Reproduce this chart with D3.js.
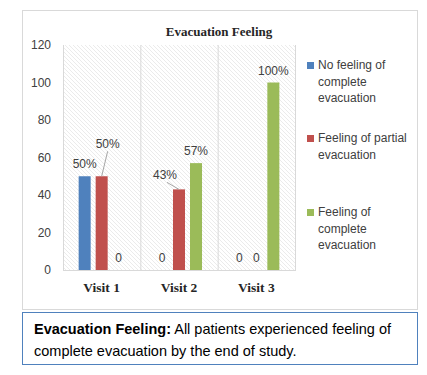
<!DOCTYPE html>
<html>
<head>
<meta charset="utf-8">
<script src="https://cdn.jsdelivr.net/npm/d3@7"></script>
<style>
  body { margin: 0; background: #fff; }
  svg { display: block; }
</style>
</head>
<body>
<div id="chart"></div>
<script>
// chart values
const categories = ["Visit 1", "Visit 2", "Visit 3"];
const seriesNames = ["No feeling of complete evacuation", "Feeling of partial evacuation", "Feeling of complete evacuation"];
const noFeeling = [50, 0, 0];
const partialFeeling = [50, 43, 0];
const completeFeeling = [0, 57, 100];
const yTicks = [0, 20, 40, 60, 80, 100, 120];
const legendLines = [["No feeling of", "complete", "evacuation"], ["Feeling of partial", "evacuation"], ["Feeling of", "complete", "evacuation"]];
const colors = ["#4f81bd", "#c0504d", "#9bbb59"];

const values = [noFeeling, partialFeeling, completeFeeling];

const svg = d3.select("#chart")
    .append("svg")
    .attr("width", 427)
    .attr("height", 375);

const font = "'Liberation Sans', Arial, sans-serif";
const serif = "'Liberation Serif', 'Times New Roman', serif";

// hatch pattern for plot area
const defs = svg.append("defs");
const pat = defs.append("pattern")
    .attr("id", "hatch")
    .attr("patternUnits", "userSpaceOnUse")
    .attr("width", 4)
    .attr("height", 4);
pat.append("rect").attr("width", 4).attr("height", 4).attr("fill", "#fff");
pat.append("path")
    .attr("d", "M-1,-1 L5,5 M-1,3 L1,5 M3,-1 L5,1")
    .attr("stroke", "#e2e2e2")
    .attr("stroke-width", 0.7);

// chart frame
svg.append("rect")
    .attr("x", 22.5).attr("y", 10.5)
    .attr("width", 395).attr("height", 299)
    .attr("fill", "#fff")
    .attr("stroke", "#d9d9d9");

svg.append("text")
    .attr("x", 219).attr("y", 36)
    .attr("text-anchor", "middle")
    .attr("font-family", serif)
    .attr("font-weight", "bold")
    .attr("font-size", 13)
    .attr("fill", "#262626")
    .text("Evacuation Feeling");

const x = d3.scaleBand().domain(categories).range([63, 295]);
const xs = d3.scaleBand().domain(d3.range(3)).range([0, x.bandwidth()])
    .paddingInner(0.294).paddingOuter(0.92);
const y = d3.scaleLinear().domain([0, 120]).range([270, 45]);

svg.append("rect")
    .attr("x", 63).attr("y", 45)
    .attr("width", 232).attr("height", 225)
    .attr("fill", "url(#hatch)");

// vertical category separators
svg.selectAll(".sep")
    .data(categories)
    .enter()
    .append("line")
    .attr("x1", d => x(d) + 0.5)
    .attr("x2", d => x(d) + 0.5)
    .attr("y1", 45)
    .attr("y2", 270)
    .attr("stroke", "#d9d9d9");
svg.append("line")
    .attr("x1", 295.5).attr("x2", 295.5)
    .attr("y1", 45).attr("y2", 270)
    .attr("stroke", "#d9d9d9");
svg.append("line")
    .attr("x1", 63).attr("x2", 296)
    .attr("y1", 270.5).attr("y2", 270.5)
    .attr("stroke", "#d9d9d9");

// y tick labels
svg.selectAll(".ytick")
    .data(yTicks)
    .enter()
    .append("text")
    .attr("x", 51)
    .attr("y", d => y(d) + 4)
    .attr("text-anchor", "end")
    .attr("font-family", font)
    .attr("font-size", 12)
    .attr("fill", "#404040")
    .text(d => d);

// x labels
svg.selectAll(".xlab")
    .data(categories)
    .enter()
    .append("text")
    .attr("x", d => x(d) + x.bandwidth() / 2)
    .attr("y", 292)
    .attr("text-anchor", "middle")
    .attr("font-family", serif)
    .attr("font-weight", "bold")
    .attr("font-size", 13.5)
    .attr("fill", "#262626")
    .text(d => d);

// bars
const barData = [];
values.forEach((arr, s) => arr.forEach((v, i) => barData.push({ s: s, cat: categories[i], v: v })));

svg.selectAll(".bar")
    .data(barData.filter(d => d.v > 0))
    .enter()
    .append("rect")
    .attr("x", d => x(d.cat) + xs(d.s))
    .attr("y", d => y(d.v))
    .attr("width", xs.bandwidth())
    .attr("height", d => y(0) - y(d.v))
    .attr("fill", d => colors[d.s]);

// labels; two of them are moved up/left with a leader line like the original
const moved = { "1-Visit 1": [6, -28], "1-Visit 2": [-14, -10] };

barData.forEach(d => {
    const cx = x(d.cat) + xs(d.s) + xs.bandwidth() / 2;
    const top = y(d.v);
    const key = d.s + "-" + d.cat;
    let lx = cx, ly = top - 8;
    if (moved[key]) {
        lx = cx + moved[key][0];
        ly = top + moved[key][1];
        svg.append("line")
            .attr("x1", cx).attr("y1", top)
            .attr("x2", lx + (moved[key][0] > 0 ? 0 : 2)).attr("y2", ly + 3)
            .attr("stroke", "#a6a6a6");
    }
    svg.append("text")
        .attr("x", lx)
        .attr("y", ly)
        .attr("text-anchor", "middle")
        .attr("font-family", font)
        .attr("font-size", 12)
        .attr("fill", "#404040")
        .text(d.v === 0 ? "0" : d.v + "%");
});

// legend
const legendTop = [65, 138, 212];
legendLines.forEach((lines, i) => {
    svg.append("rect")
        .attr("x", 307).attr("y", legendTop[i] - 3)
        .attr("width", 7).attr("height", 7)
        .attr("fill", colors[i]);
    lines.forEach((t, j) => {
        svg.append("text")
            .attr("x", 318)
            .attr("y", legendTop[i] + 4 + j * 16.5)
            .attr("font-family", font)
            .attr("font-size", 12)
            .attr("fill", "#404040")
            .text(t);
    });
});

// caption box
svg.append("rect")
    .attr("x", 22.5).attr("y", 312.5)
    .attr("width", 395).attr("height", 52)
    .attr("fill", "#fff")
    .attr("stroke", "#4f81bd")
    .attr("stroke-width", 1);

const cap = svg.append("text")
    .attr("x", 34).attr("y", 334)
    .attr("font-family", font)
    .attr("font-size", 14.5)
    .attr("fill", "#000");
cap.append("tspan").attr("font-weight", "bold").text("Evacuation Feeling:");
cap.append("tspan").text(" All patients experienced feeling of");
svg.append("text")
    .attr("x", 34).attr("y", 356)
    .attr("font-family", font)
    .attr("font-size", 14.5)
    .attr("fill", "#000")
    .text("complete evacuation by the end of study.");
</script>
</body>
</html>
